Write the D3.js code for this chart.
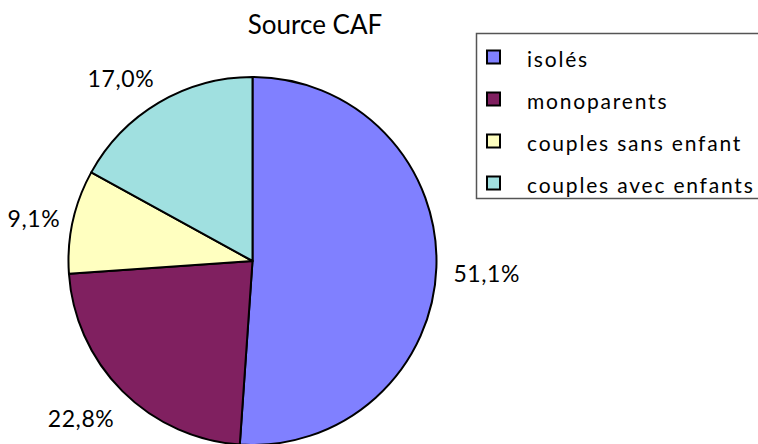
<!DOCTYPE html>
<html>
<head>
<meta charset="utf-8">
<script src="https://cdn.jsdelivr.net/npm/d3@7"></script>
<style>
  html, body { margin: 0; padding: 0; background: #fff; }
  svg { display: block; font-family: Lato, "Open Sans", sans-serif; }
</style>
</head>
<body>
<svg id="chart"></svg>
<script>
const categories = ['isolés', 'monoparents', 'couples sans enfant', 'couples avec enfants'];
const shares = [51.1, 22.8, 9.1, 17.0];
const labels = ['51,1%', '22,8%', '9,1%', '17,0%'];
const colors = ['#8080FF', '#802060', '#FFFFC0', '#A0E0E0'];
const title = 'Source CAF';

const width = 758;
const height = 444;
const cx = 252.5;
const cy = 261;
const radius = 184;
const labelDist = 201;

const svg = d3.select('#chart')
  .attr('width', width)
  .attr('height', height);

const data = categories.map((c, i) => ({name: c, value: shares[i], label: labels[i], color: colors[i]}));

const pie = d3.pie()
  .value(d => d.value)
  .sort(null);

const arc = d3.arc()
  .innerRadius(0)
  .outerRadius(radius);

const arcs = pie(data);

svg.append('text')
  .attr('x', 315)
  .attr('y', 34)
  .attr('text-anchor', 'middle')
  .style('font-size', '26px')
  .style('fill', '#000')
  .text(title);

const g = svg.append('g')
  .attr('transform', `translate(${cx}, ${cy})`);

g.selectAll('.slice')
  .data(arcs)
  .enter()
  .append('path')
  .attr('class', 'slice')
  .attr('d', arc)
  .style('fill', d => d.data.color)
  .style('stroke', '#000')
  .style('stroke-width', 2)
  .style('stroke-linejoin', 'round');

// labels sit outside the slice on its bisector, box edge touching
const labelG = g.selectAll('.label')
  .data(arcs)
  .enter()
  .append('text')
  .attr('class', 'label')
  .style('font-size', '23px')
  .style('letter-spacing', '0.6px')
  .style('fill', '#000')
  .attr('dominant-baseline', 'central')
  .attr('text-anchor', 'middle')
  .text(d => d.data.label);

labelG.each(function(d) {
  const a = (d.startAngle + d.endAngle) / 2;
  const box = this.getBBox();
  const px = Math.sin(a) * labelDist;
  const py = -Math.cos(a) * labelDist;
  const dx = (Math.sin(a) >= 0 ? 1 : -1) * box.width / 2 + (Math.sin(a) < 0 ? 4 : 0);
  const dy = -Math.cos(a) * 16 + 4;
  d3.select(this)
    .attr('x', px + dx)
    .attr('y', py + dy);
});

// legend
const legend = svg.append('g');
legend.append('rect')
  .attr('x', 476.5)
  .attr('y', 33.5)
  .attr('width', 300)
  .attr('height', 165)
  .style('fill', '#fff')
  .style('stroke', '#555')
  .style('stroke-width', 1.5);

const rowY = d3.scalePoint()
  .domain(categories)
  .range([57, 183]);

const rows = legend.selectAll('.row')
  .data(data)
  .enter()
  .append('g')
  .attr('class', 'row')
  .attr('transform', d => `translate(0, ${rowY(d.name)})`);

rows.append('rect')
  .attr('x', 487)
  .attr('y', -6.5)
  .attr('width', 13)
  .attr('height', 13)
  .style('fill', d => d.color)
  .style('stroke', '#000')
  .style('stroke-width', 2);

rows.append('text')
  .attr('x', 527)
  .attr('y', 1)
  .attr('dominant-baseline', 'central')
  .style('font-size', '21px')
  .style('letter-spacing', '1.8px')
  .style('fill', '#000')
  .text(d => d.name);
</script>
</body>
</html>
